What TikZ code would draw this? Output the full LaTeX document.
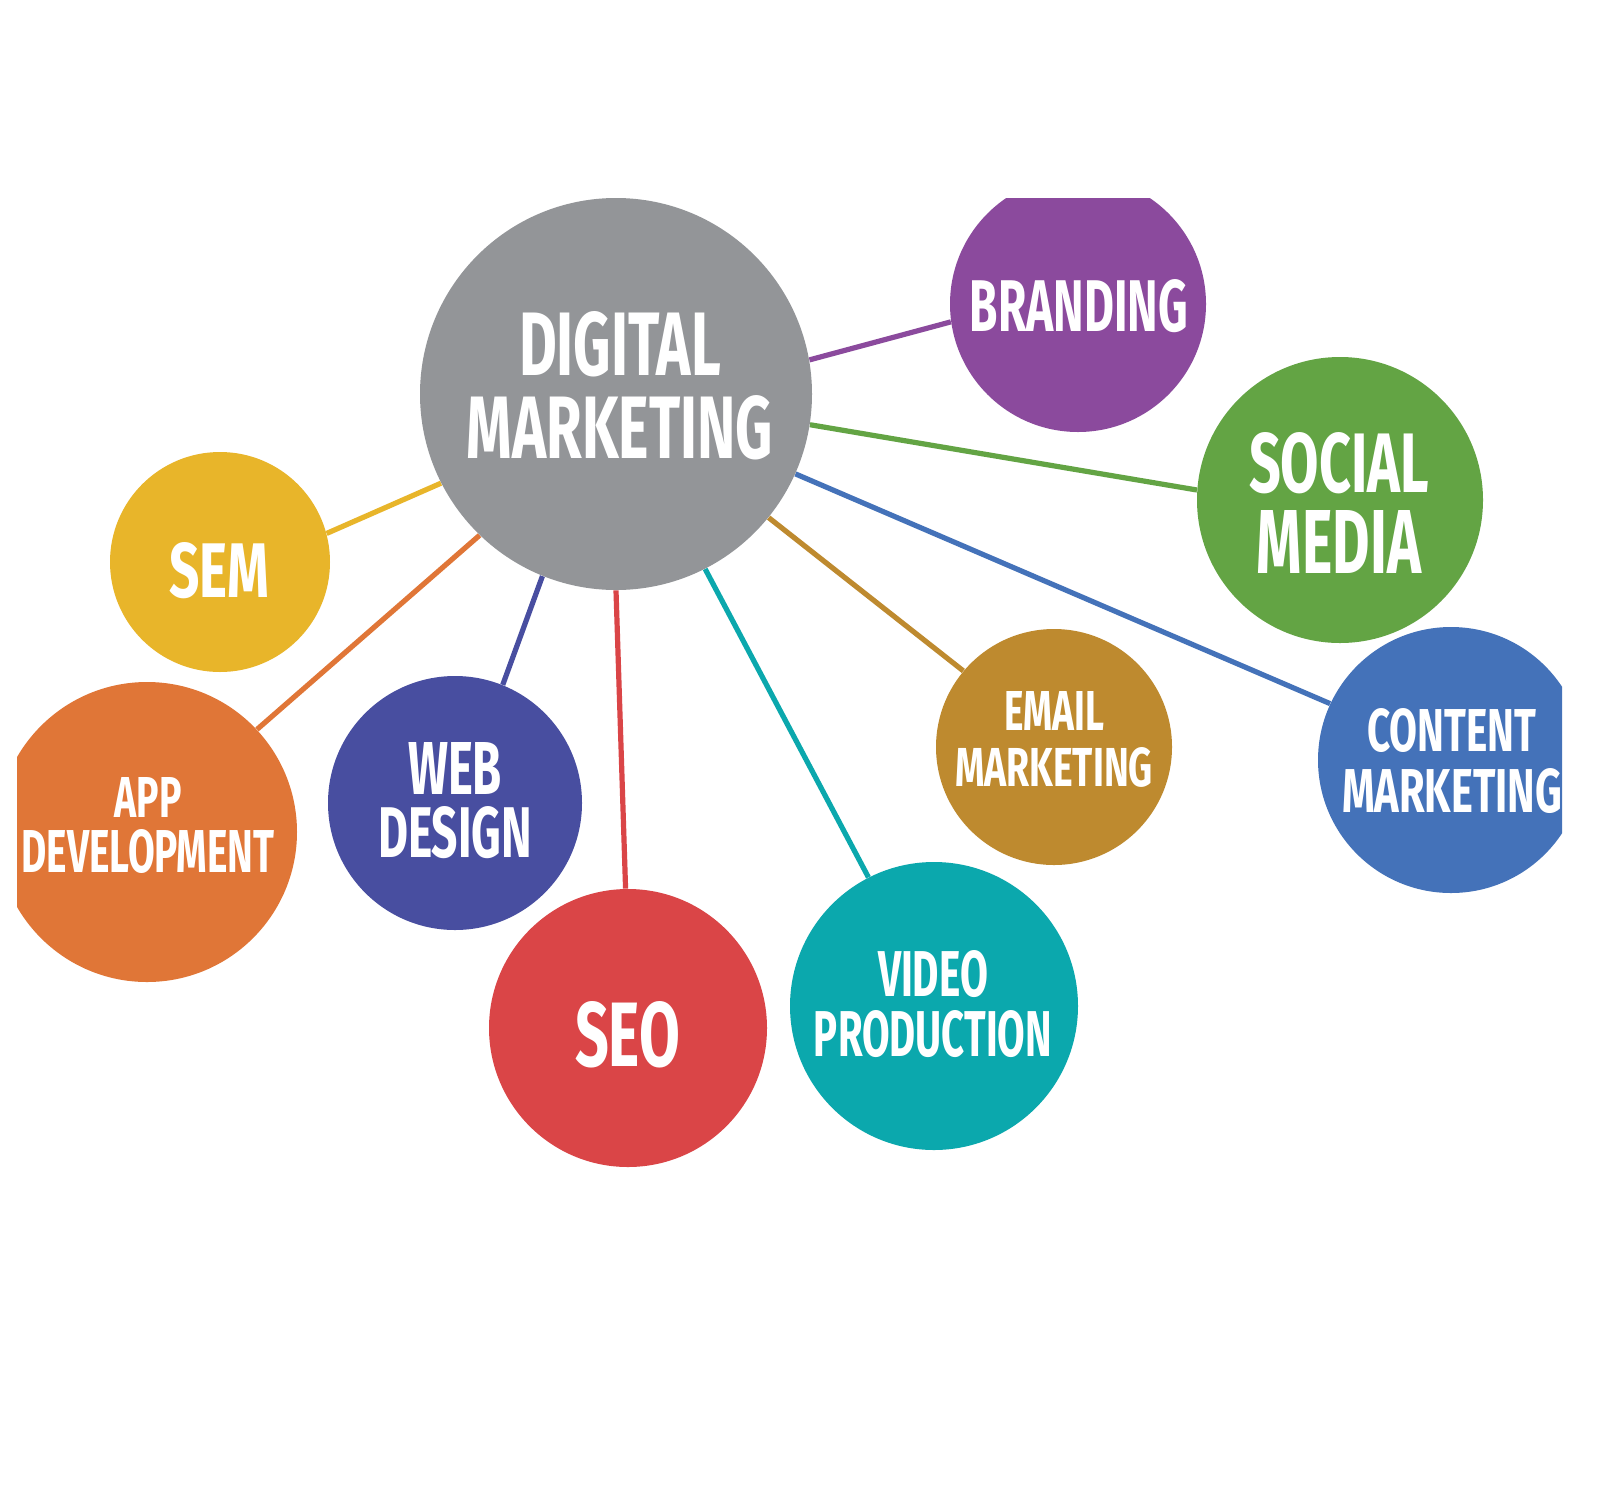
\documentclass[tikz,border=0pt]{standalone}
\usepackage{fontspec}
\setmainfont{Fira Sans}
\usepackage{graphicx}
\newdimen\pxu \pxu=0.5pt
\newcommand\fl[3]{\resizebox{#1\pxu}{#2\pxu}{\bfseries #3}}
\newcommand\twol[3]{\vbox{\offinterlineskip\halign{\hfil##\hfil\cr #1\cr\noalign{\vskip #3\pxu}#2\cr}}}
\definecolor{cgray}{HTML}{939598}
\definecolor{cpurple}{HTML}{8B4A9D}
\definecolor{cgreen}{HTML}{63A444}
\definecolor{cblue}{HTML}{4472B9}
\definecolor{cochre}{HTML}{BE8A2F}
\definecolor{cteal}{HTML}{0BA8AD}
\definecolor{cred}{HTML}{DA4547}
\definecolor{cnavy}{HTML}{484EA0}
\definecolor{corange}{HTML}{E07637}
\definecolor{cyellow}{HTML}{E8B52A}
\pgfdeclarelayer{back}
\pgfdeclarelayer{bg}
\pgfsetlayers{back,bg,main}
\tikzset{
  bubble/.style={circle, draw=none, inner sep=0pt, minimum size=#1*0.5pt},
  lbl/.style={inner sep=0pt, text=white},
  conn/.style={line width=2.6pt}
}
\begin{document}
\begin{tikzpicture}[x=0.5pt, y=-0.5pt]
\begin{pgfonlayer}{back}
\fill[white] (0,0) rectangle (1600,1510);
\end{pgfonlayer}
\useasboundingbox (0,0) rectangle (1600,1510);
\begin{scope}
\clip (17,198) rectangle (1562,1510);
% circles
\node[bubble=392, fill=cgray]   (dm)  at (616,394)  {};
\node[bubble=256, fill=cpurple] (br)  at (1078,304) {};
\node[bubble=286, fill=cgreen]  (sm)  at (1340,500) {};
\node[bubble=266, fill=cblue]   (cm)  at (1451,760) {};
\node[bubble=236, fill=cochre]  (em)  at (1054,747) {};
\node[bubble=288, fill=cteal]   (vp)  at (934,1006) {};
\node[bubble=278, fill=cred]    (seo) at (628,1028) {};
\node[bubble=254, fill=cnavy]   (wd)  at (455,803)  {};
\node[bubble=300, fill=corange] (ad)  at (147,832)  {};
\node[bubble=220, fill=cyellow] (sem) at (220,562)  {};
% labels
\node[lbl] (dmt)  at (620,385.5) {\twol{\fl{202}{64}{DIGITAL}}{\fl{306}{63}{MARKETING}}{18}};
\node[lbl] (brt)  at (1079,306)  {\fl{218}{52}{BRANDING}};
\node[lbl] (smt)  at (1339,503)  {\twol{\fl{180}{60}{SOCIAL}}{\fl{164}{63}{MEDIA}}{17}};
\node[lbl] (cmt)  at (1452,761)  {\twol{\fl{169}{43}{CONTENT}}{\fl{220}{44}{MARKETING}}{15}};
\node[lbl] (emt)  at (1054,739.5){\twol{\fl{100}{39}{EMAIL}}{\fl{198}{39}{MARKETING}}{17}};
\node[lbl] (vpt)  at (933,1004)  {\twol{\fl{110}{46}{VIDEO}}{\fl{238}{46}{PRODUCTION}}{12}};
\node[lbl] (seot) at (627.5,1034.5) {\fl{105}{65}{SEO}};
\node[lbl] (wdt)  at (455,800.5) {\twol{\fl{94}{52}{WEB}}{\fl{154}{51}{DESIGN}}{12}};
\node[lbl] (adt)  at (148,825.5) {\twol{\fl{67}{40}{APP}}{\fl{253}{43}{DEVELOPMENT}}{12}};
\node[lbl] (semt) at (219,570.5) {\fl{100}{55}{SEM}};
\end{scope}
% connectors behind the circles
\begin{pgfonlayer}{bg}
\draw[conn, cpurple] (dm.10.6)  -- (br.188.5);
\draw[conn, cgreen]  (dm.351.6) -- (sm.176);
\draw[conn, cblue]   (dm.336.3) -- (cm.155);
\draw[conn, cochre]  (dm.321)   -- (em.140);
\draw[conn, cteal]   (dm.297.5) -- (vp.117);
\draw[conn, cred]    (dm.270.6) -- (seo.91);
\draw[conn, cnavy]   (dm.248)   -- (wd.68);
\draw[conn, corange] (dm.226)   -- (ad.43);
\draw[conn, cyellow] (dm.207)   -- (sem.15);
\end{pgfonlayer}
\end{tikzpicture}
\end{document}
